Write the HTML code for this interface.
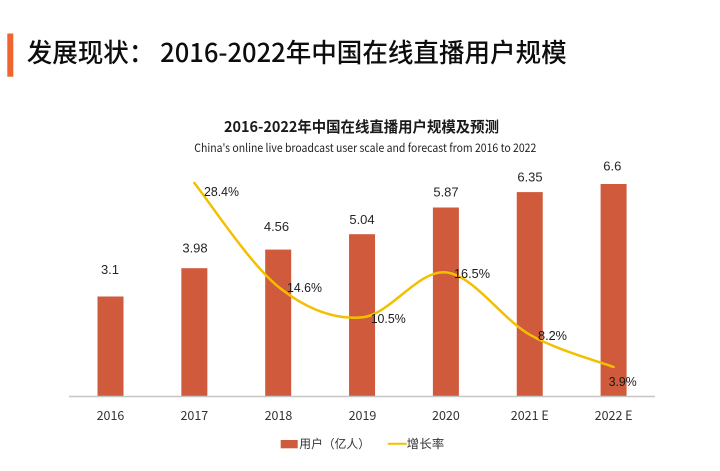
<!DOCTYPE html>
<html><head><meta charset="utf-8"><style>
html,body{margin:0;padding:0;background:#fff;width:720px;height:471px;overflow:hidden}
svg{display:block}
</style></head><body>
<svg width="720" height="471" viewBox="0 0 720 471" xmlns="http://www.w3.org/2000/svg">
<rect x="0" y="0" width="720" height="471" fill="#fff"/>
<rect x="7.3" y="33.5" width="6" height="43.2" fill="#f0642f"/>
<text x="26.7" y="62" font-family="'Noto Sans CJK SC','WenQuanYi Zen Hei',sans-serif" font-size="26" font-weight="500" fill="#0d0d0d" textLength="540" lengthAdjust="spacingAndGlyphs" xml:space="preserve">发展现状： 2016-2022年中国在线直播用户规模</text>

<text x="224" y="132" font-family="'Noto Sans CJK SC',sans-serif" font-size="15" font-weight="bold" fill="#1a1a1a" textLength="275" lengthAdjust="spacingAndGlyphs">2016-2022年中国在线直播用户规模及预测</text>
<text x="194.3" y="152" font-family="'Noto Sans CJK SC',sans-serif" font-size="11.5" fill="#222" textLength="342" lengthAdjust="spacingAndGlyphs">China's online live broadcast user scale and forecast from 2016 to 2022</text>

<g fill="#d05a3c">
<rect x="97.5" y="296.5" width="26" height="99.5"/>
<rect x="181.35" y="268.2" width="26" height="127.8"/>
<rect x="265.2" y="249.6" width="26" height="146.4"/>
<rect x="349.05" y="234.2" width="26" height="161.8"/>
<rect x="432.9" y="207.5" width="26" height="188.5"/>
<rect x="516.75" y="192.1" width="26" height="203.9"/>
<rect x="600.6" y="184" width="26" height="212"/>
</g>
<line x1="69" y1="396.5" x2="655" y2="396.5" stroke="#c6c6c6" stroke-width="1.5"/>

<path d="M194.35,183 C208.3,200.3 250.25,264.3 278.2,286.7 C306.15,309.1 334.1,319.8 362.05,317.4 C390,315 417.95,269.5 445.9,272.4 C473.85,275.3 501.8,318.9 529.75,334.7 C557.7,350.5 599.6,361.6 613.6,367" fill="none" stroke="#f2c000" stroke-width="2.5" stroke-linecap="round"/>

<g font-family="'Liberation Sans',sans-serif" font-size="13" fill="#262626" text-anchor="middle">
<text x="110" y="274">3.1</text>
<text x="195" y="252.7">3.98</text>
<text x="276.5" y="231">4.56</text>
<text x="362" y="224">5.04</text>
<text x="446" y="196.7">5.87</text>
<text x="530" y="181.7">6.35</text>
<text x="612.3" y="170.7">6.6</text>
</g>

<g font-family="'Liberation Sans',sans-serif" font-size="13" fill="#1a1a1a">
<text x="204" y="196" textLength="35" lengthAdjust="spacingAndGlyphs">28.4%</text>
<text x="287" y="292" textLength="35" lengthAdjust="spacingAndGlyphs">14.6%</text>
<text x="370.7" y="323" textLength="35" lengthAdjust="spacingAndGlyphs">10.5%</text>
<text x="454" y="278" textLength="36" lengthAdjust="spacingAndGlyphs">16.5%</text>
<text x="538" y="340" textLength="29" lengthAdjust="spacingAndGlyphs">8.2%</text>
<text x="608.7" y="386" textLength="28" lengthAdjust="spacingAndGlyphs">3.9%</text>
</g>

<g font-family="'Noto Sans CJK SC',sans-serif" font-size="12.5" fill="#333" text-anchor="middle">
<text x="110.5" y="420">2016</text>
<text x="194.35" y="420">2017</text>
<text x="278.5" y="420">2018</text>
<text x="362.5" y="420">2019</text>
<text x="445.9" y="420">2020</text>
<text x="529.75" y="420">2021 E</text>
<text x="613.6" y="420">2022 E</text>
</g>

<rect x="280.7" y="440" width="17" height="8.3" fill="#d05a3c"/>
<text x="299.3" y="448" font-family="'Noto Sans CJK SC',sans-serif" font-size="12" fill="#333" textLength="70.7" lengthAdjust="spacingAndGlyphs">用户（亿人）</text>
<line x1="387.7" y1="443.7" x2="406.7" y2="443.7" stroke="#f2c000" stroke-width="2"/>
<text x="406.7" y="448" font-family="'Noto Sans CJK SC',sans-serif" font-size="12" fill="#333" textLength="37.6" lengthAdjust="spacingAndGlyphs">增长率</text>
</svg>
</body></html>
